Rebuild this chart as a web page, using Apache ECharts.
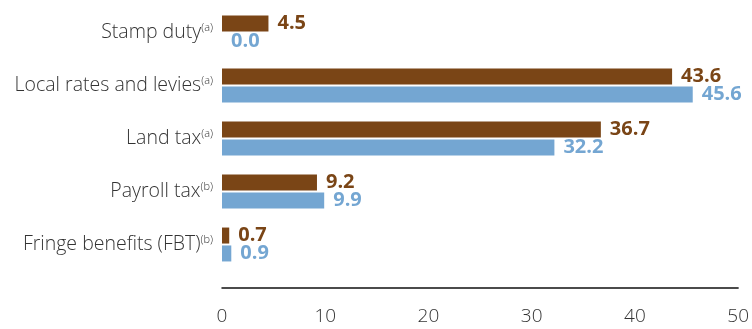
<!DOCTYPE html>
<html>
<head>
<meta charset="utf-8">
<script src="https://cdn.jsdelivr.net/npm/echarts@6/dist/echarts.min.js"></script>
<style>
  html, body { margin: 0; padding: 0; background: #fff; }
  #chart { width: 752px; height: 329px; }
</style>
</head>
<body>
<div id="chart"></div>
<script>
// category names and their footnote markers
var categories = ['Stamp duty', 'Local rates and levies', 'Land tax', 'Payroll tax', 'Fringe benefits (FBT)'];
var notes = ['(a)', '(a)', '(a)', '(b)', '(b)'];
var brownValues = [4.5, 43.6, 36.7, 9.2, 0.7];
var blueValues = [0.0, 45.6, 32.2, 9.9, 0.9];
var xTicks = [0, 10, 20, 30, 40, 50];

var BROWN = '#7a4516';
var BLUE = '#74a6d2';

var chart = echarts.init(document.getElementById('chart'));

var labelFont = {
    show: true,
    position: 'right',
    distance: 9,
    fontFamily: 'Open Sans',
    fontWeight: 'bold',
    fontSize: 20,
    formatter: function (p) { return p.value.toFixed(1); }
};

chart.setOption({
    animation: false,
    grid: { left: 222, right: 12, top: 6, height: 265 },
    xAxis: {
        type: 'value',
        min: xTicks[0],
        max: xTicks[xTicks.length - 1],
        interval: 10,
        offset: 17,
        axisLine: { show: true, lineStyle: { color: '#111', width: 1.5 } },
        axisTick: { show: false },
        splitLine: { show: false },
        axisLabel: {
            margin: 19,
            color: '#333',
            fontFamily: 'Open Sans',
            fontWeight: 300,
            fontSize: 19
        }
    },
    yAxis: {
        type: 'category',
        inverse: true,
        data: categories,
        axisLine: { show: false },
        axisTick: { show: false },
        axisLabel: {
            margin: 9,
            formatter: function (v, i) { return '{n|' + v + '}{s|' + notes[i] + '}'; },
            rich: {
                n: { color: '#333', fontFamily: 'Open Sans', fontWeight: 300, fontSize: 19.5 },
                s: { color: '#333', fontFamily: 'Open Sans', fontWeight: 300, fontSize: 11, verticalAlign: 'top', padding: [0, 0, 9, 0] }
            }
        }
    },
    series: [{
        type: 'bar',
        data: brownValues,
        barWidth: 16,
        barGap: '12%',
        itemStyle: { color: BROWN },
        label: Object.assign({ color: BROWN }, labelFont)
    }, {
        type: 'bar',
        data: blueValues,
        barWidth: 16,
        itemStyle: { color: BLUE },
        label: Object.assign({ color: BLUE }, labelFont)
    }]
});
</script>
</body>
</html>
